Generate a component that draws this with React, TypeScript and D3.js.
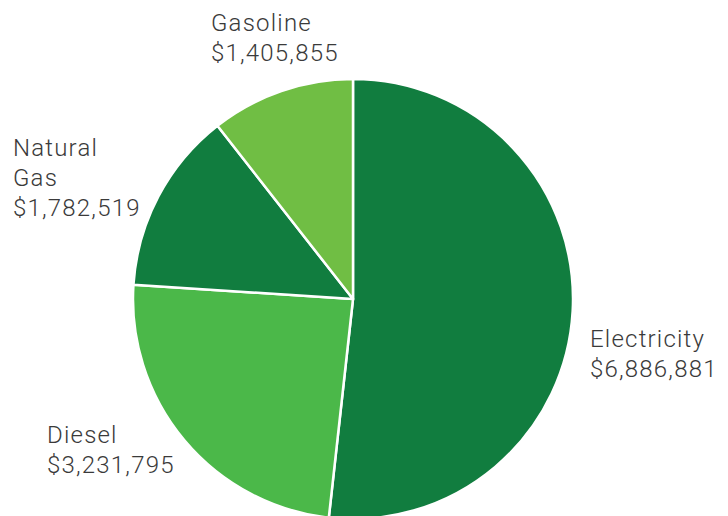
import * as d3 from 'd3';

// slice data, clockwise from 12 o'clock
const categories = ['Electricity', 'Diesel', 'Natural Gas', 'Gasoline'];
const values = [6886881, 3231795, 1782519, 1405855];
const colors = ['#117d3f', '#4bb849', '#117d3f', '#70be44'];

// label lines as drawn in the picture
const labelLines = [
  ['Electricity', '$6,886,881'],
  ['Diesel', '$3,231,795'],
  ['Natural', 'Gas', '$1,782,519'],
  ['Gasoline', '$1,405,855'],
];
const labelPos = [
  { x: 590, y: 347 },
  { x: 47, y: 443 },
  { x: 13, y: 156 },
  { x: 211, y: 31 },
];

export default function App() {
  const width = 728;
  const height = 516;
  const cx = 353;
  const cy = 299;
  const radius = 220;

  const pie = d3.pie<number>().sort(null).value(d => d);
  const arcs = pie(values);
  const arc = d3.arc<d3.PieArcDatum<number>>().innerRadius(0).outerRadius(radius);

  return (
    <svg
      width={width}
      height={height}
      style={{ position: 'fixed', left: 0, top: 0, background: '#fff' }}
    >
      <g transform={`translate(${cx},${cy})`}>
        {arcs.map((a, i) => (
          <path
            key={categories[i]}
            d={arc(a) || ''}
            fill={colors[i]}
            stroke="#fff"
            strokeWidth={2.5}
            strokeLinejoin="round"
          />
        ))}
      </g>

      {/* labels */}
      {labelLines.map((lines, i) => (
        <text
          key={i}
          x={labelPos[i].x}
          y={labelPos[i].y}
          fontFamily="Roboto"
          fontWeight={300}
          fontSize={24}
          letterSpacing={1.2}
          fill="#3a3a3a"
        >
          {lines.map((t, j) => (
            <tspan key={j} x={labelPos[i].x} dy={j === 0 ? 0 : 30}>
              {t}
            </tspan>
          ))}
        </text>
      ))}
    </svg>
  );
}
